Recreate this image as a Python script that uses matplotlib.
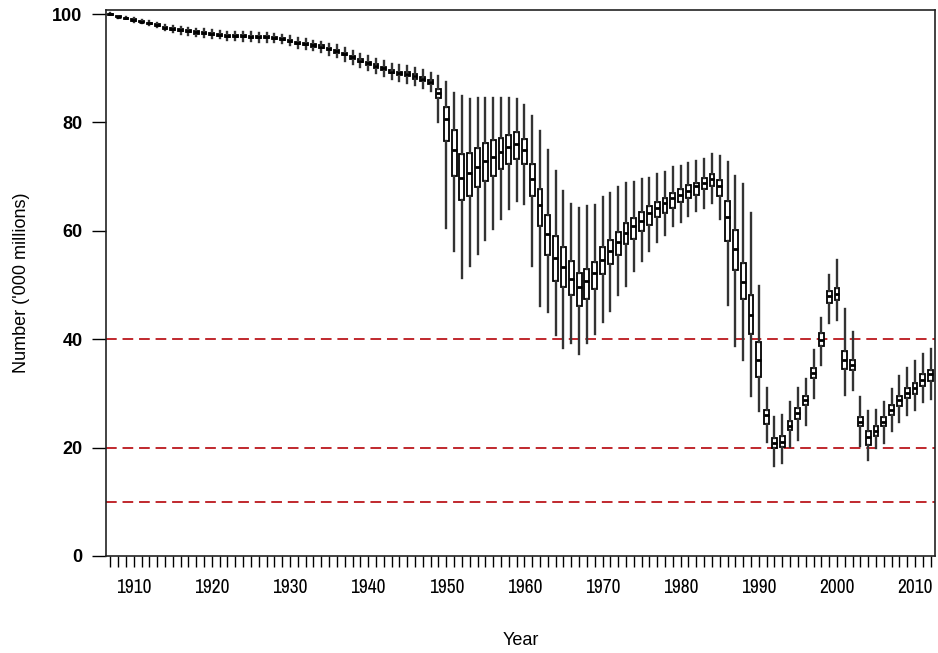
import matplotlib
matplotlib.use("Agg")
import matplotlib.pyplot as plt
from matplotlib import font_manager

years = list(range(1907, 2013))

median = [100.0, 99.5, 99.2, 98.9, 98.6, 98.3, 98.0, 97.5, 97.2, 97.0,
          96.8, 96.6, 96.5, 96.3, 96.2, 96.0, 95.9, 95.9, 95.8, 95.7,
          95.7, 95.6, 95.4, 95.1, 94.7, 94.5, 94.2, 94.0, 93.5, 93.1,
          92.6, 92.0, 91.4, 90.9, 90.4, 90.0, 89.4, 89.1, 88.9, 88.5,
          88.0, 87.5, 85.5, 80.7, 74.9, 69.8, 70.6, 71.7, 72.9, 73.7,
          74.5, 75.4, 76.0, 74.9, 69.5, 64.7, 59.4, 54.9, 53.3, 51.2,
          49.6, 50.7, 52.2, 54.6, 56.3, 58.0, 59.6, 60.9, 61.8, 63.3,
          64.3, 65.2, 66.1, 66.7, 67.4, 68.3, 68.9, 69.5, 68.3, 62.5,
          56.7, 50.5, 44.5, 36.2, 26.1, 20.9, 21.1, 24.0, 26.4, 28.7,
          33.8, 39.9, 47.9, 48.4, 36.2, 35.3, 24.8, 21.9, 23.0, 24.8,
          27.0, 28.7, 30.1, 31.0, 32.5, 33.5]

q1 = [99.9, 99.4, 99.1, 98.8, 98.5, 98.2, 97.8, 97.3, 97.0, 96.8,
      96.6, 96.4, 96.3, 96.1, 96.0, 95.8, 95.7, 95.7, 95.6, 95.5,
      95.5, 95.4, 95.2, 94.9, 94.5, 94.3, 94.0, 93.8, 93.3, 92.9,
      92.4, 91.7, 91.1, 90.6, 90.1, 89.7, 89.1, 88.8, 88.6, 88.1,
      87.6, 87.1, 84.6, 76.6, 70.1, 65.6, 66.4, 68.0, 69.2, 70.2,
      71.5, 72.3, 73.2, 72.3, 66.4, 60.9, 55.6, 50.8, 49.7, 48.2,
      46.2, 47.5, 49.2, 52.1, 53.9, 55.5, 57.6, 58.5, 60.0, 61.1,
      62.6, 63.3, 64.2, 65.3, 66.1, 66.7, 67.7, 68.2, 66.5, 58.1,
      52.8, 47.4, 41.0, 33.1, 24.4, 19.9, 20.2, 23.2, 25.3, 27.8,
      32.8, 38.7, 46.6, 47.3, 34.5, 34.4, 23.9, 20.5, 22.2, 23.9,
      26.1, 27.7, 29.1, 29.9, 31.4, 32.2]

q3 = [100.1, 99.6, 99.3, 99.0, 98.7, 98.4, 98.2, 97.7, 97.4, 97.2,
      97.0, 96.8, 96.7, 96.5, 96.4, 96.2, 96.1, 96.1, 96.0, 95.9,
      95.9, 95.8, 95.6, 95.3, 94.9, 94.7, 94.4, 94.3, 93.8, 93.4,
      92.9, 92.3, 91.7, 91.2, 90.7, 90.3, 89.7, 89.4, 89.3, 88.9,
      88.4, 87.9, 86.2, 82.8, 78.6, 74.1, 74.4, 75.2, 76.2, 76.7,
      77.2, 77.7, 78.3, 76.9, 72.4, 67.8, 62.9, 59.0, 57.0, 54.4,
      52.3, 53.0, 54.2, 57.1, 58.4, 59.8, 61.4, 62.4, 63.5, 64.6,
      65.3, 66.1, 66.9, 67.8, 68.4, 68.9, 69.8, 70.4, 69.4, 65.5,
      60.1, 54.0, 48.1, 39.4, 26.9, 21.7, 22.1, 25.0, 27.3, 29.6,
      34.7, 41.2, 48.9, 49.5, 37.8, 36.2, 25.7, 23.0, 23.9, 25.6,
      27.9, 29.6, 31.0, 32.0, 33.5, 34.4]

whisker_lo = [99.8, 99.3, 99.0, 98.6, 98.3, 97.9, 97.6, 97.0, 96.6, 96.4,
              96.2, 96.0, 95.8, 95.6, 95.5, 95.3, 95.2, 95.1, 95.0, 94.9,
              94.9, 94.8, 94.6, 94.3, 93.8, 93.6, 93.3, 93.0, 92.5, 92.0,
              91.4, 90.8, 90.2, 89.6, 89.1, 88.6, 88.0, 87.6, 87.3, 86.9,
              86.3, 85.8, 80.0, 60.6, 56.2, 51.3, 53.5, 55.8, 58.4, 60.3,
              62.1, 64.1, 65.5, 64.9, 53.6, 46.2, 45.0, 40.7, 38.4, 39.3,
              37.2, 39.3, 41.0, 43.2, 45.2, 48.2, 49.8, 52.5, 54.5, 56.2,
              57.9, 59.2, 60.9, 61.6, 62.7, 63.6, 64.3, 65.2, 62.1, 46.4,
              38.7, 36.2, 29.5, 26.7, 21.1, 16.6, 17.1, 20.2, 21.4, 24.2,
              29.1, 35.3, 43.0, 43.6, 29.8, 30.7, 20.3, 17.7, 19.9, 20.8,
              23.0, 24.8, 26.1, 27.0, 28.5, 29.0]

whisker_hi = [100.2, 99.7, 99.4, 99.2, 98.9, 98.7, 98.4, 98.0, 97.8, 97.6,
              97.4, 97.2, 97.2, 97.0, 96.9, 96.7, 96.6, 96.7, 96.6, 96.5,
              96.5, 96.4, 96.2, 95.9, 95.6, 95.4, 95.1, 94.9, 94.5, 94.2,
              93.8, 93.2, 92.6, 92.2, 91.7, 91.4, 90.8, 90.6, 90.4, 90.0,
              89.6, 89.2, 88.5, 87.4, 85.4, 84.8, 84.3, 84.6, 84.6, 84.6,
              84.6, 84.6, 84.3, 83.2, 81.2, 78.4, 75.0, 71.0, 67.3, 64.9,
              64.2, 64.6, 64.7, 66.3, 67.0, 68.0, 68.9, 69.0, 69.5, 69.8,
              70.4, 70.9, 71.7, 71.9, 72.5, 72.9, 73.3, 74.1, 73.8, 72.7,
              70.1, 68.6, 63.3, 49.8, 31.0, 25.7, 26.1, 28.5, 31.0, 32.7,
              38.1, 43.9, 51.9, 54.6, 45.6, 41.3, 29.3, 26.7, 26.9, 28.5,
              30.8, 33.3, 34.7, 35.9, 37.2, 38.2]

ref_lines = [40, 20, 10]
y_ticks = [0, 20, 40, 60, 80, 100]
x_tick_labels = [1910, 1920, 1930, 1940, 1950, 1960, 1970, 1980, 1990, 2000, 2010]

available = sorted({f.name for f in font_manager.fontManager.ttflist})
base_font = "Liberation Sans" if "Liberation Sans" in available else "DejaVu Sans"
if "Liberation Sans Narrow" in available:
    narrow_font = "Liberation Sans Narrow"
else:
    narrow = [n for n in available if "Narrow" in n or "Condensed" in n]
    narrow_font = narrow[0] if narrow else base_font
plt.rcParams["font.family"] = [base_font, "DejaVu Sans"]

fig = plt.figure(figsize=(9.38, 6.53), dpi=100)
ax = fig.add_axes([106 / 938, 1 - 556 / 653, (935 - 106) / 938, (556 - 10) / 653])

stats = []
for y, m, a, b, lo, hi in zip(years, median, q1, q3, whisker_lo, whisker_hi):
    stats.append(dict(med=m, q1=a, q3=b, whislo=lo, whishi=hi, fliers=[], label=str(y)))

ax.bxp(stats, positions=years, widths=0.62, showfliers=False, showcaps=False,
       patch_artist=True,
       boxprops=dict(facecolor="white", edgecolor="black", linewidth=1.3),
       whiskerprops=dict(color="#333333", linewidth=1.7),
       medianprops=dict(color="black", linewidth=2.0),
       manage_ticks=False, zorder=3)

for v in ref_lines:
    ax.axhline(v, color="#c0282d", linestyle=(0, (5.5, 3)), linewidth=1.4, zorder=2)

ax.set_xlim(1906.45, 2012.55)
ax.set_ylim(0, 100.75)

ax.set_yticks(y_ticks)
ax.set_yticklabels([str(t) for t in y_ticks], fontweight="bold", fontsize=13)
ax.set_xticks(years, minor=True)
ax.set_xticks(x_tick_labels)
ax.set_xticklabels([str(t) for t in x_tick_labels], fontsize=14,
                   family=[narrow_font, base_font, "DejaVu Sans"])
ax.tick_params(axis="x", which="both", length=8, width=1.0, pad=8, colors="black")
ax.tick_params(axis="y", length=10, width=1.0, pad=7)

for s in ax.spines.values():
    s.set_linewidth(1.2)
    s.set_color("#222222")

ax.set_xlabel("Year", fontsize=13)
ax.set_ylabel("Number ('000 millions)", fontsize=13)
ax.xaxis.set_label_coords(0.5, -0.139)
ax.yaxis.set_label_coords(-0.092, 0.5)

fig.savefig("out.png", dpi=100)
